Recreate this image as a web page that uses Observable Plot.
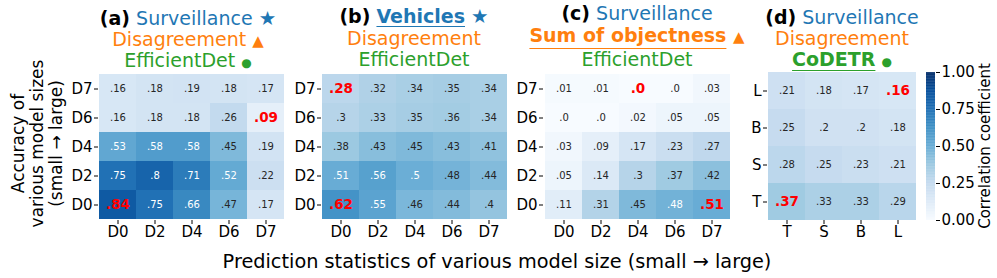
<!DOCTYPE html>
<html>
<head>
<meta charset="utf-8">
<script src="https://cdn.jsdelivr.net/npm/d3@7"></script>
<script src="https://cdn.jsdelivr.net/npm/@observablehq/plot@0.6"></script>
<style>
  html, body { margin: 0; padding: 0; background: #fff; }
  #root { position: relative; width: 997px; height: 278px; overflow: hidden; font-family: "DejaVu Sans", sans-serif; }
  .tl { position: absolute; width: 320px; text-align: center; white-space: nowrap; font-size: 19px; line-height: 19px; }
  .blue { color: #1f77b4; } .orange { color: #ff7f0e; } .green { color: #2ca02c; }
  .ul { text-decoration: underline; text-decoration-thickness: 1.3px; }
  .mk { font-size: 12px; }
  svg { position: absolute; overflow: visible; }
</style>
</head>
<body>
<div id="root"></div>
<script>
// ---------- data ----------
const effCols = ["D0", "D2", "D4", "D6", "D7"];
const effRows = ["D7", "D6", "D4", "D2", "D0"];
const coCols = ["T", "S", "B", "L"];
const coRows = ["L", "B", "S", "T"];

const valuesA = [
  [0.16, 0.18, 0.19, 0.18, 0.17],
  [0.16, 0.18, 0.18, 0.26, 0.09],
  [0.53, 0.58, 0.58, 0.45, 0.19],
  [0.75, 0.80, 0.71, 0.52, 0.22],
  [0.84, 0.75, 0.66, 0.47, 0.17]
];
const valuesB = [
  [0.28, 0.32, 0.34, 0.35, 0.34],
  [0.30, 0.33, 0.35, 0.36, 0.34],
  [0.38, 0.43, 0.45, 0.43, 0.41],
  [0.51, 0.56, 0.50, 0.476, 0.44],
  [0.62, 0.55, 0.46, 0.44, 0.40]
];
const valuesC = [
  [0.01, 0.01, 0.00, 0.00, 0.03],
  [0.00, 0.00, 0.02, 0.05, 0.05],
  [0.03, 0.09, 0.17, 0.23, 0.27],
  [0.05, 0.14, 0.30, 0.37, 0.42],
  [0.11, 0.31, 0.45, 0.484, 0.51]
];
const valuesD = [
  [0.21, 0.18, 0.17, 0.16],
  [0.25, 0.20, 0.20, 0.18],
  [0.28, 0.25, 0.23, 0.21],
  [0.37, 0.33, 0.33, 0.29]
];
// highlighted cells [row, col]
const highlightA = [["D0", "D0"], ["D6", "D7"]];
const highlightB = [["D7", "D0"], ["D0", "D0"]];
const highlightC = [["D7", "D4"], ["D0", "D7"]];
const highlightD = [["L", "L"], ["T", "T"]];
const colorbarTicks = [0, 0.25, 0.5, 0.75, 1];

// ---------- helpers ----------
const blues = ["#f7fbff", "#deebf7", "#c6dbef", "#9ecae1", "#6baed6", "#4292c6", "#2171b5", "#08519c", "#08306b"];
const colorOpts = { type: "linear", domain: d3.range(9).map(i => i / 8), range: blues, interpolate: "rgb" };
const colorScale = Plot.scale({ color: colorOpts });
function lum(c) {
  const { r, g, b } = d3.rgb(c);
  const f = x => { x /= 255; return x <= 0.03928 ? x / 12.92 : Math.pow((x + 0.055) / 1.055, 2.4); };
  return 0.2126 * f(r) + 0.7152 * f(g) + 0.0722 * f(b);
}
function fmt(v) {
  let s = d3.format(".2f")(v).replace(/0+$/, "");
  if (s.endsWith(".")) s += "0";
  return s.replace(/^0/, "");
}
function table(values, rows, cols, hl) {
  const out = [];
  rows.forEach((r, i) => cols.forEach((c, j) => {
    out.push({ row: r, col: c, v: values[i][j], hi: hl.some(h => h[0] === r && h[1] === c) });
  }));
  return out;
}
const root = document.getElementById("root");
const baseStyle = { fontFamily: "DejaVu Sans", fontSize: "15px", color: "black", background: "transparent" };
const TICK_FS = 15;

function panel(values, rows, cols, hl, x0, x1, y0, y1) {
  const data = table(values, rows, cols, hl);
  const mL = 40, mT = 2, mB = 30, mR = 2;
  const svg = Plot.plot({
    width: mL + (x1 - x0) + mR,
    height: mT + (y1 - y0) + mB,
    marginLeft: mL, marginTop: mT, marginBottom: mB, marginRight: mR,
    style: baseStyle,
    x: { domain: cols, padding: 0, label: null },
    y: { domain: rows, padding: 0, label: null },
    color: colorOpts,
    marks: [
      Plot.cell(data, { x: "col", y: "row", fill: "v", inset: 0 }),
      Plot.text(data, {
        filter: d => !d.hi, x: "col", y: "row", text: d => fmt(d.v),
        fill: d => lum(colorScale.apply(d.v)) > 0.408 ? "#262626" : "white",
        fontSize: 10
      }),
      Plot.text(data, {
        filter: d => d.hi, x: "col", y: "row", text: d => fmt(d.v),
        fill: "red", fontSize: 13.5, fontWeight: "bold"
      }),
      Plot.axisX({ tickSize: 4, tickPadding: 2, fontSize: TICK_FS, label: null }),
      Plot.axisY({ tickSize: 4, tickPadding: 2, fontSize: TICK_FS, label: null })
    ]
  });
  svg.style.left = (x0 - mL) + "px";
  svg.style.top = (y0 - mT) + "px";
  root.appendChild(svg);
}

const Y0 = 72, Y1 = 220;
panel(valuesA, effRows, effCols, highlightA, 98, 285, Y0, Y1);
panel(valuesB, effRows, effCols, highlightB, 321, 508, Y0, Y1);
panel(valuesC, effRows, effCols, highlightC, 543, 732, Y0, Y1);
panel(valuesD, coRows, coCols, highlightD, 767, 917, Y0, Y1);

// colorbar
{
  const steps = d3.range(0, 1, 0.005);
  const mT = 2, mB = 2, cbW = 9;
  const svg = Plot.plot({
    width: cbW + 60, height: mT + (Y1 - Y0) + mB,
    marginLeft: 0, marginRight: 60, marginTop: mT, marginBottom: mB,
    style: baseStyle,
    x: { domain: [0, 1], axis: null },
    y: { domain: [0, 1], axis: null },
    color: colorOpts,
    marks: [
      Plot.rect(steps, { x1: 0, x2: 1, y1: d => d, y2: d => Math.min(1, d + 0.0075), fill: d => d + 0.0025 }),
      Plot.axisY({ anchor: "right", ticks: colorbarTicks, tickFormat: d3.format(".2f"), tickSize: 4, tickPadding: 2, fontSize: TICK_FS, label: null })
    ]
  });
  svg.style.left = "926px";
  svg.style.top = (Y0 - mT) + "px";
  root.appendChild(svg);
}

// ---------- titles ----------
function line(cx, baseline, html) {
  const d = document.createElement("div");
  d.className = "tl";
  d.style.left = (cx - 160) + "px";
  d.style.top = (baseline - 16.1) + "px";
  d.innerHTML = html;
  root.appendChild(d);
}
const cA = 188, cB = 414, cC = 637, cD = 842;
line(cA, 25, '<b>(a)</b> <span class="blue">Surveillance <span style="font-size:19.5px">★</span></span>');
line(cA, 46, '<span class="orange">Disagreement <span style="font-size:15px">▲</span></span>');
line(cA, 67, '<span class="green">EfficientDet <span class="mk">●</span></span>');

line(cB, 23, '<b>(b)</b> <b class="blue ul" style="text-underline-offset:3px">Vehicles</b><span class="blue"> <span style="font-size:19.5px">★</span></span>');
line(cB, 45.5, '<span class="orange">Disagreement</span>');
line(cB, 66.5, '<span class="green">EfficientDet</span>');

line(cC, 20.5, '<b>(c)</b> <span class="blue">Surveillance</span>');
line(cC, 42, '<b class="orange"><span class="ul" style="text-underline-offset:6px">Sum of objectness</span> <span style="font-size:15px">▲</span></b>');
line(cC, 66.5, '<span class="green">EfficientDet</span>');

line(cD, 24, '<b>(d)</b> <span class="blue">Surveillance</span>');
line(cD, 45, '<span class="orange">Disagreement</span>');
line(cD, 66, '<b class="green"><span class="ul" style="text-underline-offset:4px">CoDETR</span></b><span class="green"> <span class="mk">●</span></span>');

// axis titles
{
  const xt = document.createElement("div");
  xt.style.cssText = "position:absolute;left:97px;width:800px;text-align:center;white-space:nowrap;font-size:19.3px;line-height:19.3px;top:" + (268 - 16.3) + "px";
  xt.textContent = "Prediction statistics of various model size (small \u2192 large)";
  root.appendChild(xt);

  const yt = document.createElement("div");
  yt.style.cssText = "position:absolute;width:200px;height:57px;left:" + (37 - 100) + "px;top:" + (143 - 28.5) + "px;text-align:center;white-space:nowrap;font-size:17px;line-height:19px;transform:rotate(-90deg);transform-origin:50% 50%";
  yt.innerHTML = "Accuracy of<br>various model sizes<br>(small \u2192 large)";
  root.appendChild(yt);

  const ct = document.createElement("div");
  ct.style.cssText = "position:absolute;width:200px;height:18px;left:" + (985 - 100) + "px;top:" + (146 - 9) + "px;text-align:center;white-space:nowrap;font-size:15px;line-height:18px;transform:rotate(-90deg);transform-origin:50% 50%";
  ct.textContent = "Correlation coefficient";
  root.appendChild(ct);
}
</script>
</body>
</html>
